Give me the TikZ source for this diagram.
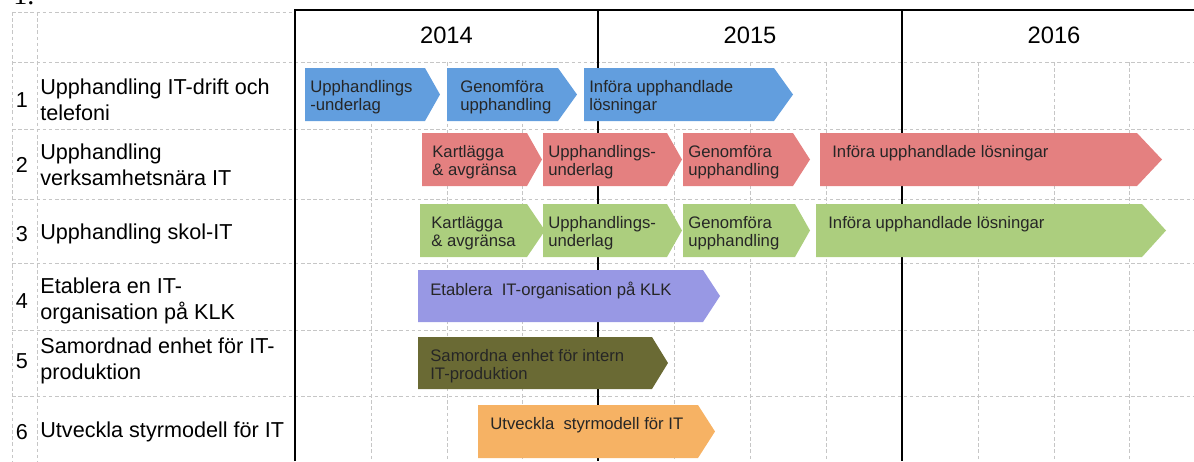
\documentclass[tikz,border=0pt]{standalone}
\usepackage{fontspec}
\setmainfont{Liberation Sans}
\newfontfamily\headserif{Liberation Serif}
\definecolor{barblue}{RGB}{98,158,222}
\definecolor{barred}{RGB}{228,128,128}
\definecolor{bargreen}{RGB}{172,206,126}
\definecolor{barpurple}{RGB}{152,152,228}
\definecolor{barolive}{RGB}{106,106,52}
\definecolor{barorange}{RGB}{246,178,100}
\begin{document}
\begin{tikzpicture}[x=0.02cm, y=-0.02cm,
  gridline/.style={gray!45, dash pattern=on 2pt off 1.5pt, line width=0.4pt},
  yearline/.style={black, line width=1.1pt},
  bartext/.style={anchor=north west, inner sep=0pt, align=left, text=black!85,
    font=\fontsize{9.5}{10.3}\selectfont},
  rowlabel/.style={anchor=west, inner sep=0pt, align=left,
    font=\fontsize{12.3}{14.7}\selectfont},
  rownum/.style={inner sep=0pt, font=\fontsize{12.3}{14.7}\selectfont},
  yearlabel/.style={inner sep=0pt, font=\fontsize{13.5}{16}\selectfont}]
				\useasboundingbox (0,0) rectangle (1194,461);

				% Heading cut at the top
				\node[anchor=base west, inner sep=0pt, font=\headserif\fontsize{16}{18}\selectfont] (heading) at (13,4) {1.};

				% Dashed grid
				\draw[gridline] (12,12) -- (295,12);
				\foreach \y in {62,129,199,263,330,396}
					\draw[gridline] (12,\y) -- (1194,\y);
				\draw[gridline] (12,12) -- (12,461);
				\draw[gridline] (37,12) -- (37,461);
				\foreach \x in {371,447,522,674,750,826,978,1054,1129}
					\draw[gridline] (\x,62) -- (\x,461);

				% Year frame
				\draw[yearline] (295,461) -- (295,10) -- (1194,10);
				\draw[yearline] (598,10) -- (598,461);
				\draw[yearline] (902,10) -- (902,461);
				\node[yearlabel] (y2014) at (446.5,35) {2014};
				\node[yearlabel] (y2015) at (750,35) {2015};
				\node[yearlabel] (y2016) at (1054,35) {2016};

				% Row labels
				\node[rownum] (num1) at (22,100) {1};
				\node[rowlabel] (lab1) at (40,100) {Upphandling IT-drift och\\telefoni};
				\node[rownum] (num2) at (22,165) {2};
				\node[rowlabel] (lab2) at (40,165) {Upphandling\\verksamhetsnära IT};
				\node[rownum] (num3) at (22,234) {3};
				\node[rowlabel] (lab3) at (40,234) {Upphandling skol-IT};
				\node[rownum] (num4) at (22,301) {4};
				\node[rowlabel] (lab4) at (40,301) {Etablera en IT-\\organisation på KLK};
				\node[rownum] (num5) at (22,361) {5};
				\node[rowlabel] (lab5) at (40,361) {Samordnad enhet för IT-\\produktion};
				\node[rownum] (num6) at (22,432) {6};
				\node[rowlabel] (lab6) at (40,432) {Utveckla styrmodell för IT};

				% Row 1
				\fill[barblue] (305,68) -- (425,68) -- (440,94.5) -- (425,121) -- (305,121) -- cycle;
				\fill[barblue] (447,68) -- (558,68) -- (577,94.5) -- (558,121) -- (447,121) -- cycle;
				\fill[barblue] (584,68) -- (774,68) -- (793,94.5) -- (774,121) -- (584,121) -- cycle;
				\node[bartext] (blue1) at (310,80) {Upphandlings\\-underlag};
				\node[bartext] (blue2) at (460,80) {Genomföra\\upphandling};
				\node[bartext] (blue3) at (589,80) {Införa upphandlade\\lösningar};

				% Row 2
				\fill[barred] (422,133) -- (527,133) -- (542,159.5) -- (527,186) -- (422,186) -- cycle;
				\fill[barred] (543,133) -- (667,133) -- (682,159.5) -- (667,186) -- (543,186) -- cycle;
				\fill[barred] (683,133) -- (793,133) -- (810,159.5) -- (793,186) -- (683,186) -- cycle;
				\fill[barred] (820,133) -- (1137,133) -- (1162,159.5) -- (1137,186) -- (820,186) -- cycle;
				\node[bartext] (red1) at (432,145) {Kartlägga\\\& avgränsa};
				\node[bartext] (red2) at (548,145) {Upphandlings-\\underlag};
				\node[bartext] (red3) at (688,145) {Genomföra\\upphandling};
				\node[bartext] (red4) at (832,145) {Införa upphandlade lösningar};

				% Row 3
				\fill[bargreen] (420,204) -- (527,204) -- (545,230.5) -- (527,257) -- (420,257) -- cycle;
				\fill[bargreen] (543,204) -- (667,204) -- (682,230.5) -- (667,257) -- (543,257) -- cycle;
				\fill[bargreen] (683,204) -- (795,204) -- (810,230.5) -- (795,257) -- (683,257) -- cycle;
				\fill[bargreen] (816,204) -- (1142,204) -- (1166,230.5) -- (1142,257) -- (816,257) -- cycle;
				\node[bartext] (green1) at (431,216) {Kartlägga\\\& avgränsa};
				\node[bartext] (green2) at (548,216) {Upphandlings-\\underlag};
				\node[bartext] (green3) at (688,216) {Genomföra\\upphandling};
				\node[bartext] (green4) at (828,216) {Införa upphandlade lösningar};

				% Row 4
				\fill[barpurple] (418,270) -- (703,270) -- (720,296) -- (703,322) -- (418,322) -- cycle;
				\node[bartext] (purple1) at (430,282) {Etablera~ IT-organisation på KLK};

				% Row 5
				\fill[barolive] (418,337) -- (652,337) -- (668,363) -- (652,389) -- (418,389) -- cycle;
				\node[bartext] (olive1) at (430,349) {Samordna enhet för intern\\IT-produktion};

				% Row 6
				\fill[barorange] (478,405) -- (698,405) -- (715,431.5) -- (698,458) -- (478,458) -- cycle;
				\node[bartext] (orange1) at (490,417) {Utveckla~ styrmodell för IT};
			\end{tikzpicture}
\end{document}
